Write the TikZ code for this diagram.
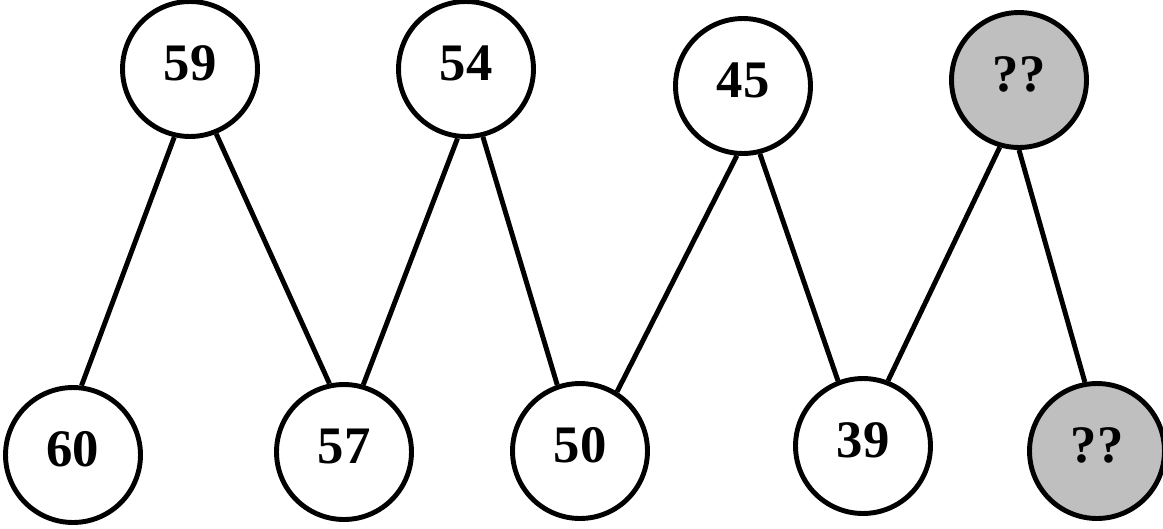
\documentclass[tikz,border=0pt]{standalone}
\usepackage{fontspec}
\setmainfont{Liberation Serif}
\begin{document}
\begin{tikzpicture}[
    x=0.02cm, y=-0.02cm,
    NN/.style={fill=white,draw=black,circle,line width=2.8pt,minimum size=2.70cm,inner sep=0pt,
      font=\fontsize{30}{36}\selectfont\bfseries,text depth=7pt},
    QN/.style={NN,fill=gray!50},
    LL/.style={draw=black,line width=2.8pt}
    ]
    \useasboundingbox (0,0) rectangle (1163,528);
    % top row
    \node [NN] (t1) at (190,69) {59};
    \node [NN] (t2) at (466,69) {54};
    \node [NN] (t3) at (743,86) {45};
    \node [QN] (t4) at (1019,80) {??};
    % bottom row
    \node [NN] (b1) at (73,455) {60};
    \node [NN] (b2) at (344,452) {57};
    \node [NN] (b3) at (580,451) {50};
    \node [NN] (b4) at (863,446) {39};
    \node [QN] (b5) at (1097,451) {??};
    % zigzag
    \draw [LL] (t1.257) -- (b1.83);
    \draw [LL] (t1.292) -- (b2.102);
    \draw [LL] (t2.263) -- (b2.74);
    \draw [LL] (t2.284) -- (b3.109);
    \draw [LL] (t3.265) -- (b3.58);
    \draw [LL] (t3.284) -- (b4.111);
    \draw [LL] (t4.254) -- (b4.69);
    \draw [LL] (t4.270) -- (b5.100);
\end{tikzpicture}
\end{document}
